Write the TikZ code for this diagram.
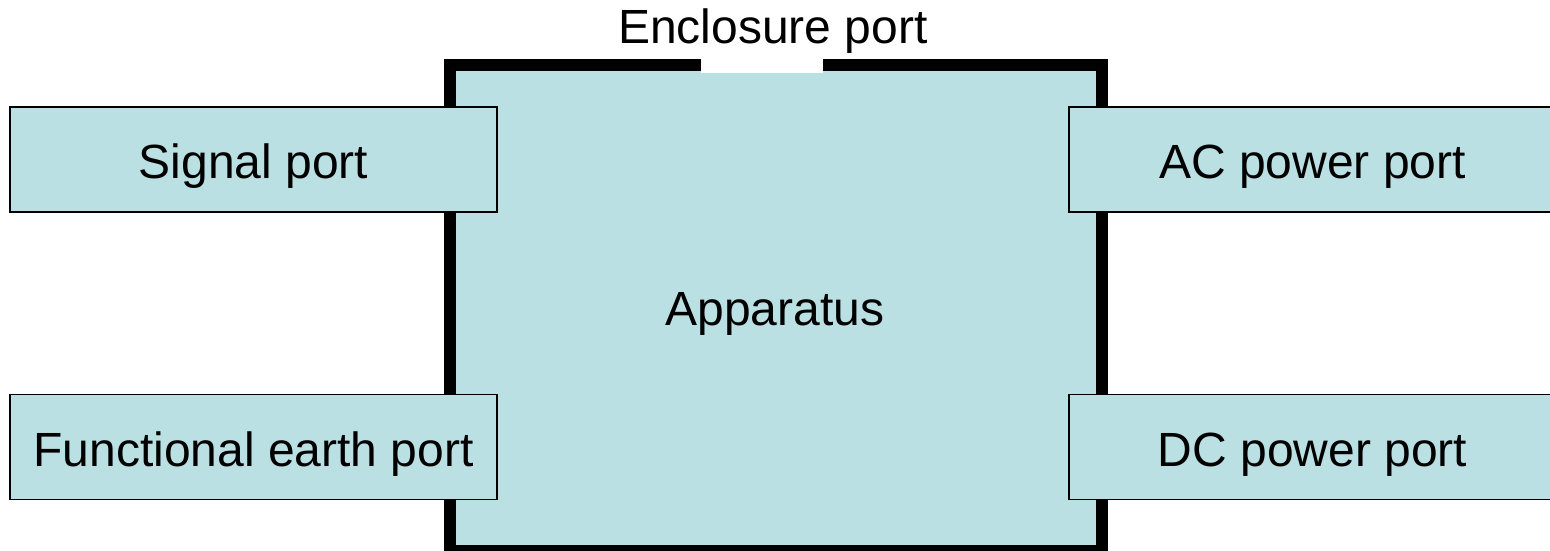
\documentclass[tikz,border=0pt]{standalone}
\usepackage{fontspec}
\setmainfont{Liberation Sans}
\definecolor{boxfill}{RGB}{186,224,227}
\begin{document}
\begin{tikzpicture}[x=1pt,y=-1pt,
  lbl/.style={font=\fontsize{48}{57}\selectfont, text height=38pt, text depth=0pt, inner sep=0pt},
  portbox/.style={lbl, draw=black, line width=1.5pt, fill=boxfill, minimum width=487pt, minimum height=105pt},
  mainbox/.style={lbl, draw=black, line width=12pt, fill=boxfill, minimum width=652pt, minimum height=486pt}]
\useasboundingbox (0,0) rectangle (1550,551);
\node[mainbox] (app) at (776,308) {};
\node[lbl] (applbl) at (775,306) {Apparatus};
\node[fill=white, inner sep=0pt, minimum width=122pt, minimum height=14pt] (gap) at (762,66) {};
\node[lbl, anchor=base, text height=, text depth=] (encl) at (773,44) {Enclosure port};
\node[portbox] (sig) at (253.5,159.5) {Signal port};
\node[portbox] (fe) at (253.5,447) {Functional earth port};
\node[portbox] (ac) at (1312.5,159.5) {AC power port};
\node[portbox] (dc) at (1312.5,447) {DC power port};
\end{tikzpicture}
\end{document}
